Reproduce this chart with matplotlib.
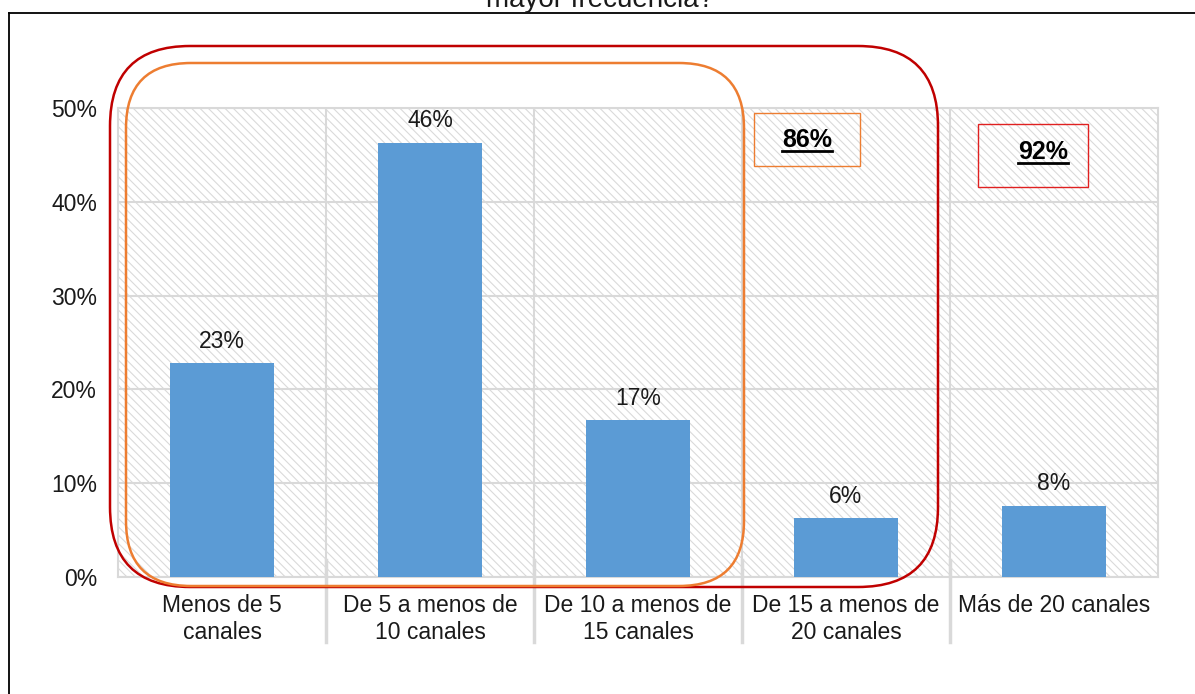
import matplotlib
matplotlib.use("Agg")
import matplotlib.pyplot as plt
from matplotlib.patches import FancyBboxPatch, Rectangle
from matplotlib.transforms import IdentityTransform, blended_transform_factory
from matplotlib.lines import Line2D
import numpy as np

plt.rcParams['font.family'] = ['Liberation Sans', 'DejaVu Sans']
plt.rcParams['hatch.color'] = '#DADADA'
plt.rcParams['hatch.linewidth'] = 0.8

categories = ["Menos de 5\ncanales", "De 5 a menos de\n10 canales", "De 10 a menos de\n15 canales",
              "De 15 a menos de\n20 canales", "Más de 20 canales"]
values = [0.228, 0.463, 0.167, 0.063, 0.076]
yticks = [0, 0.1, 0.2, 0.3, 0.4, 0.5]
grouped = [("86%", '#ED7D31'), ("92%", '#E02020')]

W, H = 1195, 694
fig = plt.figure(figsize=(W / 100, H / 100), dpi=100)
ax = fig.add_axes([118 / W, 1 - 577 / H, 1040 / W, 469 / H])

# hatched background
ax.patch.set_facecolor('white')
bg = Rectangle((0, 0), 1, 1, transform=ax.transAxes, facecolor='white',
               edgecolor='#DADADA', hatch='\\\\\\\\', linewidth=0, zorder=0)
ax.add_patch(bg)

x = np.arange(len(categories))
ax.bar(x, values, width=0.5, color='#5B9BD5', zorder=3)
for xi, v in zip(x, values):
    ax.annotate(f"{v:.0%}", (xi, v), xytext=(0, 11), textcoords='offset points',
                ha='center', va='baseline', fontsize=16.5, color='#1a1a1a', zorder=4)

ax.set_xlim(-0.5, len(categories) - 0.5)
ax.set_ylim(0, 0.5)
ax.set_yticks(yticks)
ax.set_yticklabels([f"{t:.0%}" for t in yticks])
ax.set_xticks(x)
ax.set_xticklabels(categories, linespacing=1.25)
ax.set_xticks(x[:-1] + 0.5, minor=True)
ax.tick_params(axis='both', which='major', length=0, labelsize=16.5, colors='#1a1a1a')
ax.tick_params(axis='y', pad=15)
ax.tick_params(axis='x', pad=12)
ax.tick_params(axis='x', which='minor', length=0)
ax.grid(True, axis='y', color='#D9D9D9', linewidth=1.5, zorder=1)
ax.grid(True, axis='x', which='minor', color='#D9D9D9', linewidth=1.5, zorder=1)
ax.set_axisbelow(True)
for s in ax.spines.values():
    s.set_color('#D9D9D9')
    s.set_linewidth(1.5)

# category separators below the axis
tr = blended_transform_factory(ax.transData, ax.transAxes)
for b in x[:-1] + 0.5:
    ax.add_line(Line2D([b, b], [-0.139, 0.036], transform=tr, color='#D9D9D9',
                       linewidth=2.5, clip_on=False, zorder=2))

# pixel coordinates helper (image y goes down)
def py(y):
    return H - y

idt = IdentityTransform()

# outer frame of the chart area
fig.add_artist(Line2D([9, W + 5], [py(13), py(13)], transform=idt, color='black', linewidth=1.3))
fig.add_artist(Line2D([9, 9], [py(13), -5], transform=idt, color='black', linewidth=1.3))

# title, cut off at the top like in the source screenshot
fig.text(600 / W, 1 - 7 / H, "mayor frecuencia?", ha='center', va='baseline',
         fontsize=20, color='#1a1a1a')

# rounded group outlines
fig.add_artist(FancyBboxPatch((110, py(587)), 828, 541, boxstyle='round,pad=0,rounding_size=80',
                              transform=idt, fill=False, edgecolor='#C00000', linewidth=1.8, zorder=5))
fig.add_artist(FancyBboxPatch((126, py(586)), 618, 523, boxstyle='round,pad=0,rounding_size=65',
                              transform=idt, fill=False, edgecolor='#ED7D31', linewidth=1.8, zorder=5))

# cumulative boxes
boxes = [(754, 113, 106, 53, 807, 147), (978, 124, 110, 63, 1043, 159)]
texts = []
for (bx, by, bw, bh, tx, ty), (label, col) in zip(boxes, grouped):
    fig.add_artist(Rectangle((bx, py(by + bh)), bw, bh, transform=idt, fill=False,
                             edgecolor=col, linewidth=1.0, zorder=5))
    t = fig.text(tx / W, 1 - ty / H, label, ha='center', va='baseline', fontsize=18,
                 fontweight='bold', color='black', zorder=6)
    texts.append((t, ty))

fig.canvas.draw()
r = fig.canvas.get_renderer()
for t, ty in texts:
    bb = t.get_window_extent(r)
    fig.add_artist(Line2D([bb.x0, bb.x1], [py(ty + 4), py(ty + 4)], transform=idt,
                          color='black', linewidth=2.0, zorder=6))

fig.savefig("out.png", dpi=100)
